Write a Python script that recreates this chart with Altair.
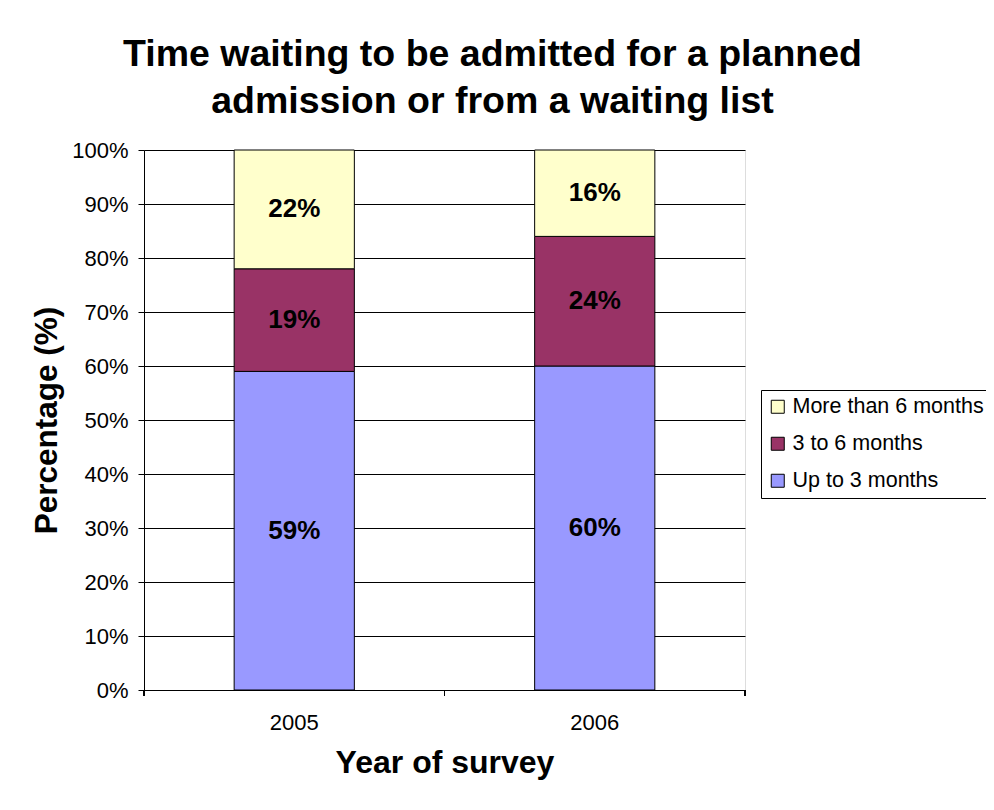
import altair as alt
import pandas as pd

years = ["2005", "2006"]
categories = ["Up to 3 months", "3 to 6 months", "More than 6 months"]
up_to_3 = [59, 60]
three_to_6 = [19, 24]
more_than_6 = [22, 16]
legend_order = ["More than 6 months", "3 to 6 months", "Up to 3 months"]
colors = ["#FFFFCC", "#993366", "#9999FF"]

rows = []
for i, y in enumerate(years):
    for rank, (cat, vals) in enumerate(zip(categories, [up_to_3, three_to_6, more_than_6])):
        rows.append({"year": y, "category": cat, "value": vals[i], "rank": rank})
df = pd.DataFrame(rows)

FONT = "Liberation Sans"

base = alt.Chart(df)

xenc = alt.X("year:N", title="Year of survey",
             scale=alt.Scale(paddingInner=0.6, paddingOuter=0.3),
             axis=alt.Axis(labelAngle=0, ticks=False, tickSize=0, labelPadding=22,
                           labelFontSize=22, labelFont=FONT, labelColor="black",
                           titleFontSize=32, titleFont=FONT, titleFontWeight="bold",
                           titleColor="black", titlePadding=14, domainColor="black"))

bars = base.mark_bar(stroke="black", strokeWidth=1).encode(
    x=xenc,
    y=alt.Y("value:Q", title="Percentage (%)", stack="zero",
            scale=alt.Scale(domain=[0, 100], nice=False),
            axis=alt.Axis(values=list(range(0, 101, 10)), labelExpr="datum.value + '%'",
                          grid=True, gridColor="black", gridOpacity=1, gridWidth=1,
                          tickSize=6, tickColor="black", domainColor="black",
                          labelFontSize=22, labelFont=FONT, labelColor="black", labelPadding=10,
                          titleFontSize=31.5, titleFont=FONT, titleFontWeight="bold",
                          titleColor="black", titlePadding=8)),
    color=alt.Color("category:N",
                    scale=alt.Scale(domain=legend_order, range=colors),
                    legend=alt.Legend(title=None, orient="none", legendX=617, legendY=240,
                                      strokeColor="black", padding=6, fillColor="white",
                                      symbolType="square", symbolSize=169,
                                      symbolStrokeColor="black", symbolStrokeWidth=1,
                                      symbolOpacity=1, labelLimit=0,
                                      labelFontSize=21.5, labelFont=FONT, labelColor="black",
                                      rowPadding=14, labelOffset=4)),
    order=alt.Order("rank:Q", sort="ascending"),
)

labels = base.transform_window(
    cum="sum(value)", groupby=["year"], sort=[{"field": "rank"}], frame=[None, 0]
).transform_calculate(
    mid="datum.cum - datum.value / 2", lab="datum.value + '%'"
).mark_text(font=FONT, fontSize=26, fontWeight="bold", color="black", baseline="middle").encode(
    x=alt.X("year:N"),
    y=alt.Y("mid:Q"),
    text="lab:N",
)

tick_layers = [
    alt.Chart(df).mark_rule(color="black", strokeWidth=1).encode(
        x=alt.value(px), y=alt.value(540), y2=alt.value(546)
    )
    for px in (0, 300.5, 601)
]

chart = alt.layer(bars, labels, *tick_layers).properties(
    width=601, height=540,
    padding={"left": 136, "top": 142, "right": 241, "bottom": 112},
    autosize=alt.AutoSizeParams(type="none"),
    title=alt.TitleParams(
        text=["Time waiting to be admitted for a planned", "admission or from a waiting list"],
        font=FONT, fontSize=37.5, fontWeight="bold", color="black",
        anchor="middle", frame="group", dx=48, offset=19, lineHeight=47,
    ),
).configure_view(stroke="black", strokeWidth=1).configure(background="white")

chart.save("out.html", embed_options={"renderer": "svg", "actions": False})
